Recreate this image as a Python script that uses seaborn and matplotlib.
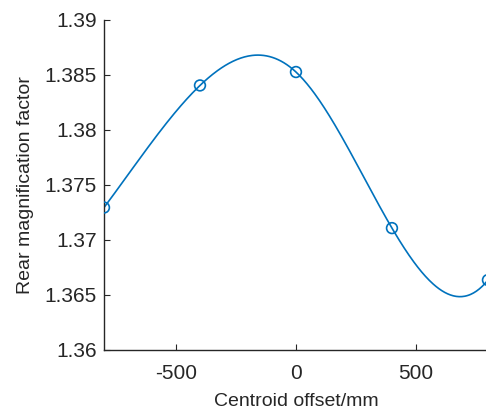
import numpy as np
import pandas as pd
import matplotlib
matplotlib.use("Agg")
import matplotlib.pyplot as plt
import seaborn as sns

offset_mm = [-800, -400, 0, 400, 800]
magnification = [1.37295, 1.38405, 1.38527, 1.37108, 1.36636]

y_ticks = [1.36, 1.365, 1.37, 1.375, 1.38, 1.385, 1.39]
y_tick_labels = ['1.36', '1.365', '1.37', '1.375', '1.38', '1.385', '1.39']
x_ticks = [-500, 0, 500]
x_tick_labels = ['-500', '0', '500']

sns.set_theme(style="ticks")
plt.rcParams['font.family'] = ['Liberation Sans', 'DejaVu Sans']

line_color = '#0072BD'
axis_color = '#262626'

# not-a-knot cubic spline through the points (same as MATLAB spline):
# a cubic plus one truncated power term at the middle point
x = np.array(offset_mm, dtype=float)
y = np.array(magnification, dtype=float)
xs = x / 1000.0
k = xs[2]


def basis(t):
    return np.column_stack([np.ones_like(t), t, t**2, t**3, np.clip(t - k, 0, None)**3])


coef = np.linalg.solve(basis(xs), y)
x_fine = np.linspace(x[0], x[-1], 400)
curve = pd.DataFrame({'offset': x_fine, 'mag': basis(x_fine / 1000.0) @ coef})
points = pd.DataFrame({'offset': x, 'mag': y})

fig = plt.figure(figsize=(4.86, 4.12), dpi=100)
ax = fig.add_axes([0.214, 0.1505, 0.79, 0.801])

sns.lineplot(data=curve, x='offset', y='mag', ax=ax, color=line_color, linewidth=1.2)
sns.scatterplot(data=points, x='offset', y='mag', ax=ax, s=60, marker='o',
                facecolor='none', edgecolor=line_color, linewidth=1.2, zorder=3)

ax.set_xlim(-800, 800)
ax.set_ylim(1.36, 1.39)
ax.set_xticks(x_ticks)
ax.set_xticklabels(x_tick_labels)
ax.set_yticks(y_ticks)
ax.set_yticklabels(y_tick_labels)

ax.set_xlabel('Centroid offset/mm', fontsize=14, color=axis_color, labelpad=7)
ax.set_ylabel('Rear magnification factor', fontsize=14, color=axis_color, labelpad=8)
ax.tick_params(direction='in', length=4, width=0.8, labelsize=15,
               colors=axis_color)
ax.tick_params(axis='x', pad=10)
ax.tick_params(axis='y', pad=5)

for side in ['top', 'right']:
    ax.spines[side].set_visible(False)
for side in ['left', 'bottom']:
    ax.spines[side].set_color(axis_color)
    ax.spines[side].set_linewidth(1.0)

plt.savefig('out.png', dpi=100)
